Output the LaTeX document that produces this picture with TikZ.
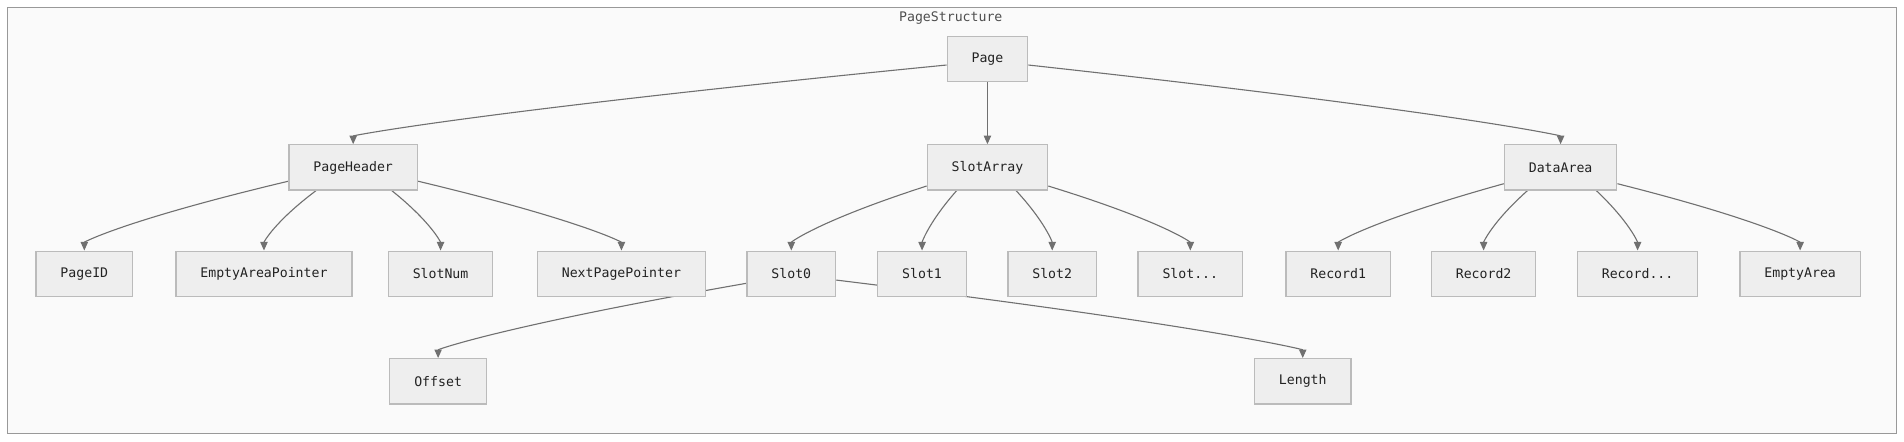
\documentclass[tikz,border=0pt]{standalone}
\usepackage{fontspec}
\setmonofont{DejaVu Sans Mono}
\usetikzlibrary{arrows.meta,calc,backgrounds}
\definecolor{nodefill}{HTML}{EEEEEE}
\definecolor{nodeline}{HTML}{BBBBBB}
\definecolor{edgecol}{HTML}{707070}
\definecolor{framefill}{HTML}{FAFAFA}
\definecolor{framecol}{HTML}{999999}
\definecolor{txt}{HTML}{222222}
\tikzset{
  box/.style={draw=nodeline, fill=nodefill, line width=1pt, minimum height=37pt,
    inner xsep=20pt, inner ysep=0pt, font=\ttfamily\fontsize{10.8}{12}\selectfont, text=txt},
  edge/.style={draw=edgecol, line width=0.9pt, -{Triangle[length=7pt,width=6pt]}},
}
\newcommand\tedge[3]{%
  \path (#3.north) ++(0,-17) coordinate (tmpP);
  \draw[edge] (#1.#2) .. controls ($(#1.#2)!0.8!(tmpP)$) and ($(#3.north)+(0,-7)$) .. (#3.north);}
\begin{document}
\begin{tikzpicture}[x=1pt,y=-1pt]
\useasboundingbox (0,0) rectangle (1558,361);
\node[font=\ttfamily\fontsize{10.8}{12}\selectfont, text=txt!80!white] (title) at (778,15) {PageStructure};
\node[box] (page) at (808,48.5) {Page};
\node[box] (hdr) at (289,137) {PageHeader};
\node[box] (slots) at (808,137) {SlotArray};
\node[box] (data) at (1277,137) {DataArea};
\node[box] (pid) at (69,224) {PageID};
\node[box] (eap) at (216,224) {EmptyAreaPointer};
\node[box] (snum) at (360.5,224) {SlotNum};
\node[box] (npp) at (508.5,224) {NextPagePointer};
\node[box] (s0) at (647.5,224) {Slot0};
\node[box] (s1) at (754.5,224) {Slot1};
\node[box] (s2) at (861,224) {Slot2};
\node[box] (sd) at (974,224) {Slot...};
\node[box] (r1) at (1095,224) {Record1};
\node[box] (r2) at (1214,224) {Record2};
\node[box] (rd) at (1340,224) {Record...};
\node[box] (ea) at (1473,224) {EmptyArea};
\node[box] (off) at (358.5,312) {Offset};
\node[box] (len) at (1066,312) {Length};
\begin{pgfonlayer}{background}
\fill[white] (0,0) rectangle (1558,361);
\draw[draw=framecol, fill=framefill, line width=1pt] (6,6) rectangle (1552,355);
\draw[edge] (page.south) -- (slots.north);
\tedge{page}{188}{hdr}
\tedge{page}{352}{data}
\tedge{hdr}{192}{pid}
\tedge{hdr}{212}{eap}
\tedge{hdr}{329}{snum}
\tedge{hdr}{348}{npp}
\tedge{slots}{197}{s0}
\tedge{slots}{217}{s1}
\tedge{slots}{321}{s2}
\tedge{slots}{343}{sd}
\tedge{data}{196}{r1}
\tedge{data}{215}{r2}
\tedge{data}{327}{rd}
\tedge{data}{344}{ea}
\tedge{s0}{192}{off}
\tedge{s0}{352}{len}
\end{pgfonlayer}
\end{tikzpicture}
\end{document}
